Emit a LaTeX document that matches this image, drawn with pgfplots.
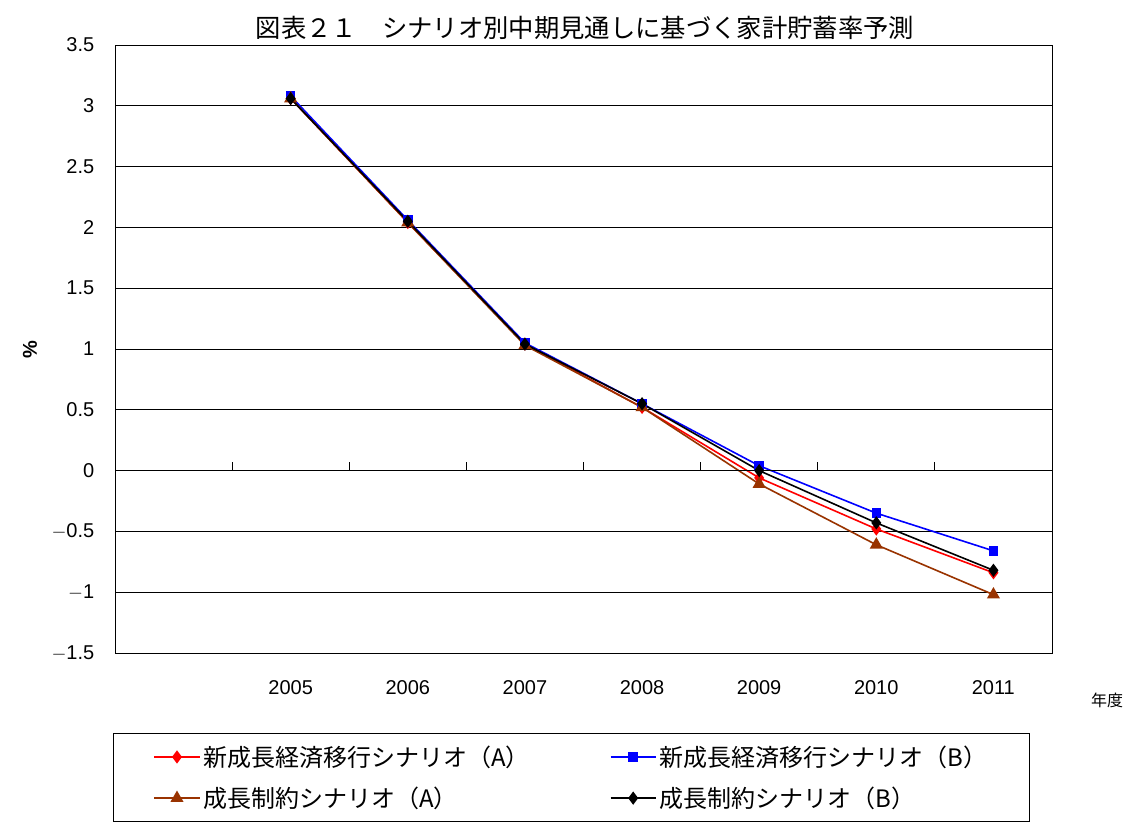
\documentclass[border=0pt]{standalone}
\usepackage{pgfplots}
\pgfplotsset{compat=1.18}
\usepackage{fontspec}
\setmainfont{Noto Sans CJK JP}
\newfontfamily\arial{Liberation Sans}
\definecolor{brn}{HTML}{993300}
\begin{document}
\begin{tikzpicture}[x=0.75pt,y=0.75pt]
\useasboundingbox (-115,-185) rectangle (1015,653);
\begin{axis}[at={(0,0)},anchor=south west,scale only axis,
width=702.75pt,height=456pt,
xmin=2003.5,xmax=2011.5,ymin=-1.5,ymax=3.5,
xtick={2005,...,2011},xticklabels={2005,2006,2007,2008,2009,2010,2011},
ytick={-1.5,-1,...,3.5},
yticklabels={$-$1.5,$-$1,$-$0.5,0,0.5,1,1.5,2,2.5,3,3.5},
major x tick style={draw=none},
ymajorgrids, grid style={black,semithick},
axis line style={semithick},
tick style={black}, tick align=outside, major tick length=0pt,
yticklabel style={font=\arial\fontsize{15}{17}\selectfont,xshift=-12pt},
xticklabel style={font=\arial\fontsize{15}{17}\selectfont,yshift=-17pt},
/pgf/number format/assume math mode=true,
legend style={at={(-0.002,-0.132)},anchor=north west,draw=black,semithick,
 font=\fontsize{18}{21}\selectfont,
 /tikz/column 2/.style={column sep=58pt},
 inner xsep=30pt,inner ysep=7pt,row sep=10pt},
legend image code/.code={\draw[#1,very thick,mark repeat=2,mark phase=2] plot coordinates {(0pt,0pt)(17pt,0pt)(34pt,0pt)};},
legend columns=2, legend cell align=left,
]
\addplot[red,very thick,mark=diamond*,mark size=4pt] coordinates {(2005,3.06)(2006,2.04)(2007,1.04)(2008,0.52)(2009,-0.06)(2010,-0.48)(2011,-0.84)};
\addlegendentry{新成長経済移行シナリオ（A）}
\addplot[blue,very thick,mark=square*,mark size=3pt] coordinates {(2005,3.08)(2006,2.06)(2007,1.05)(2008,0.55)(2009,0.04)(2010,-0.35)(2011,-0.66)};
\addlegendentry{新成長経済移行シナリオ（B）}
\addplot[brn,very thick,mark=triangle*,mark size=4.5pt] coordinates {(2005,3.06)(2006,2.04)(2007,1.03)(2008,0.52)(2009,-0.11)(2010,-0.61)(2011,-1.02)};
\addlegendentry{成長制約シナリオ（A）}
\addplot[black,very thick,mark=diamond*,mark size=4pt] coordinates {(2005,3.06)(2006,2.05)(2007,1.04)(2008,0.55)(2009,0.0)(2010,-0.43)(2011,-0.82)};
\addlegendentry{成長制約シナリオ（B）}
\draw[thick] (axis cs:2003.5,0) -- (axis cs:2011.5,0);
\foreach \t in {2004.5,2005.5,2006.5,2007.5,2008.5,2009.5,2010.5}{
 \edef\tmp{\noexpand\draw[thick] (axis cs:\t,0) -- (axis cs:\t,0.07);}\tmp}
\end{axis}
\node at (470,625) {\fontsize{19}{21}\selectfont 図表２１\quad シナリオ別中期見通しに基づく家計貯蓄率予測};
\node[rotate=90] at (-85,303) {\arial\bfseries\fontsize{15}{17}\selectfont \%};
\node at (992,-47) {\fontsize{12}{14}\selectfont 年度};
\end{tikzpicture}
\end{document}
